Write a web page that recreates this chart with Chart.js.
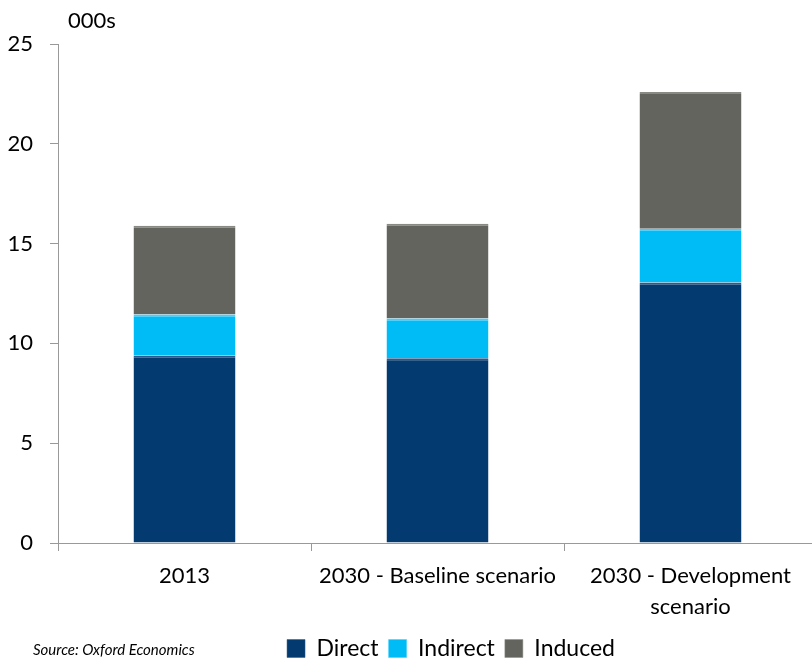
<!DOCTYPE html>
<html>
<head>
<meta charset="utf-8">
<script src="https://cdn.jsdelivr.net/npm/chart.js@4"></script>
<style>
  html, body { margin: 0; padding: 0; background: #fff; overflow: hidden; }
  #wrap { width: 902px; height: 670px; }
</style>
</head>
<body>
<div id="wrap"><canvas id="jobsChart"></canvas></div>
<script>
const categories = ['2013', '2030 - Baseline scenario', ['2030 - Development', 'scenario']];
const direct = [9.4, 9.25, 13.05];
const indirect = [2.05, 2.0, 2.7];
const induced = [4.45, 4.75, 6.85];
const yTicks = [0, 5, 10, 15, 20, 25];

const FONT = 'Lato, "Open Sans", sans-serif';

// draws "000s" above the axis and the source note
const extraText = {
    id: 'extraText',
    afterDraw(chart) {
        const ctx = chart.ctx;
        ctx.save();
        ctx.fillStyle = '#000';
        ctx.textBaseline = 'middle';
        ctx.textAlign = 'left';
        ctx.font = '22px ' + FONT;
        ctx.fillText('000s', 68, 21);
        ctx.font = 'italic 15px ' + FONT;
        ctx.fillText('Source: Oxford Economics', 33, 650);
        ctx.restore();
    }
};

const ctx = document.getElementById('jobsChart').getContext('2d');
const jobsChart = new Chart(ctx, {
    type: 'bar',
    data: {
        labels: categories,
        datasets: [
            { label: 'Direct', data: direct, backgroundColor: '#033a70', borderColor: '#2c5a8c', borderWidth: { top: 2 }, borderSkipped: false },
            { label: 'Indirect', data: indirect, backgroundColor: '#00bcf6', borderColor: '#3fd0ff', borderWidth: { top: 2 }, borderSkipped: false },
            { label: 'Induced', data: induced, backgroundColor: '#64645e', borderColor: '#8a8a84', borderWidth: { top: 2 }, borderSkipped: false }
        ]
    },
    options: {
        responsive: true,
        maintainAspectRatio: false,
        animation: false,
        layout: { padding: { top: 44, left: 0, right: 0, bottom: 0 } },
        datasets: { bar: { categoryPercentage: 1, barPercentage: 0.403 } },
        scales: {
            x: {
                stacked: true,
                afterFit(scale) { scale.height = 84; },
                grid: { drawOnChartArea: false, tickLength: 8, color: '#999', offset: true },
                border: { color: '#999' },
                ticks: { color: '#000', font: { family: FONT, size: 22, lineHeight: 1.4 }, padding: 10, maxRotation: 0, autoSkip: false }
            },
            y: {
                stacked: true,
                min: 0,
                max: 25,
                afterFit(scale) { scale.width = 58; },
                afterBuildTicks(scale) { scale.ticks = yTicks.map(v => ({ value: v })); },
                grid: { drawOnChartArea: false, tickLength: 8, color: '#999' },
                border: { color: '#999' },
                ticks: { color: '#000', font: { family: FONT, size: 22 }, padding: 17 }
            },
            yFill: {
                position: 'right',
                display: true,
                afterFit(scale) { scale.width = 85; },
                grid: { display: false },
                border: { display: false },
                ticks: { display: false }
            }
        },
        plugins: {
            legend: {
                position: 'bottom',
                labels: { color: '#000', font: { family: FONT, size: 23, lineHeight: 1 }, boxWidth: 18, boxHeight: 18, padding: 10 }
            },
            tooltip: { enabled: false }
        }
    },
    plugins: [extraText]
});
</script>
</body>
</html>
